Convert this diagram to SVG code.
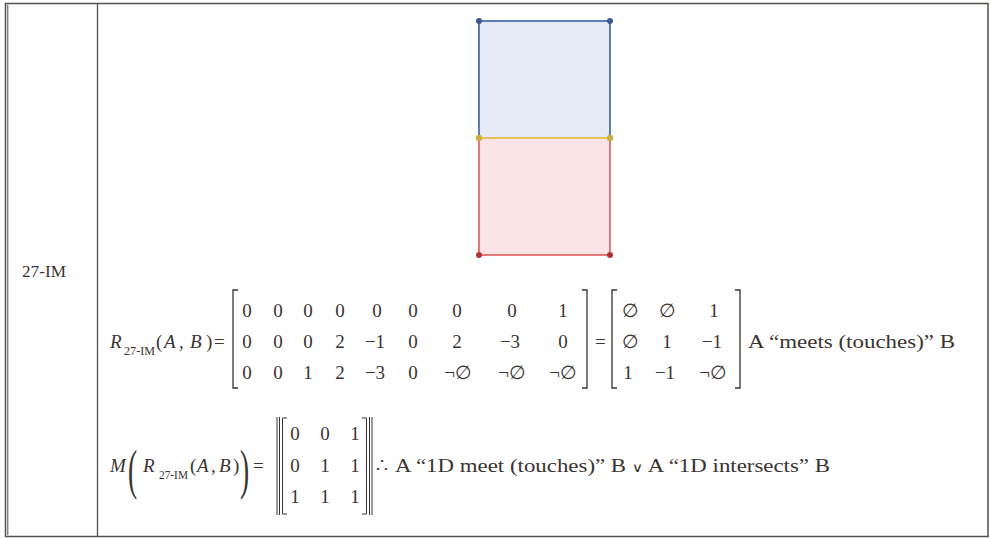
<svg xmlns="http://www.w3.org/2000/svg" width="990" height="538" viewBox="0 0 990 538">
<style>
.t{font-family:"Liberation Serif","Times New Roman",serif;fill:#3b3330;font-size:19px}
.i{font-style:italic}
.s{font-size:12px}
.c{text-anchor:middle}
.ln{stroke:#55504b;fill:none}
.br{stroke:#3b3330;stroke-width:1.3;fill:none}
.bar{stroke:#3b3330;stroke-width:1;fill:none}
.big{font-size:55px}
.lab{font-size:17px}
.or{font-family:"DejaVu Serif",serif;font-size:13px}
</style>
<rect width="990" height="538" fill="#ffffff"/>
<g id="table">
<line class="ln" x1="5" y1="3.5" x2="988.5" y2="3.5" stroke-width="1.5"/>
<line class="ln" x1="5.5" y1="3" x2="5.5" y2="537" stroke-width="1.5"/>
<line class="ln" x1="7.8" y1="5" x2="7.8" y2="535" stroke-width="1" stroke="#8a8580"/>
<line class="ln" x1="97.5" y1="4" x2="97.5" y2="536" stroke-width="1.3"/>
<line class="ln" x1="988" y1="3" x2="988" y2="537" stroke-width="1.5"/>
<line class="ln" x1="5" y1="536.5" x2="988.5" y2="536.5" stroke-width="1.5"/>
</g>
<g id="label">
<text class="t lab" x="22" y="277" textLength="44" lengthAdjust="spacingAndGlyphs">27-IM</text>
</g>
<g id="shapeA">
<rect x="479" y="21" width="131" height="117" fill="#e6eaf7" stroke="#5e7db2" stroke-width="2"/>
</g>
<g id="shapeB">
<rect x="479" y="138" width="131" height="117" fill="#fbe3e6" stroke="#e8777d" stroke-width="2"/>
</g>
<g id="connectors">
<line x1="479" y1="138" x2="610" y2="138" stroke="#e3c25c" stroke-width="2.2"/>
<circle cx="479" cy="21" r="3" fill="#3d5a8e"/>
<circle cx="610" cy="21" r="3" fill="#3d5a8e"/>
<circle cx="479" cy="138" r="3.2" fill="#c9b13e"/>
<circle cx="610" cy="138" r="3.2" fill="#c9b13e"/>
<circle cx="479" cy="255" r="3" fill="#b03434"/>
<circle cx="610" cy="255" r="3" fill="#b03434"/>
</g>
<g id="formula1">
<text class="t i" x="110" y="348">R</text>
<text class="t s" x="124" y="355" textLength="31" lengthAdjust="spacingAndGlyphs">27-IM</text>
<text class="t" x="156" y="348">(</text>
<text class="t i" x="164" y="348">A</text>
<text class="t" x="179" y="348">,</text>
<text class="t i" x="190" y="348">B</text>
<text class="t" x="206" y="348">)</text>
<text class="t" x="214" y="348">=</text>
<path class="br" d="M238,290 H233 V388 H238"/>
<g class="t c">
<text x="247" y="317">0</text><text x="278" y="317">0</text><text x="308" y="317">0</text><text x="340" y="317">0</text><text x="377" y="317">0</text><text x="413" y="317">0</text><text x="457" y="317">0</text><text x="512" y="317">0</text><text x="563" y="317">1</text>
<text x="247" y="348">0</text><text x="278" y="348">0</text><text x="308" y="348">0</text><text x="340" y="348">2</text><text x="375" y="348">−1</text><text x="413" y="348">0</text><text x="457" y="348">2</text><text x="510" y="348">−3</text><text x="563" y="348">0</text>
<text x="247" y="379">0</text><text x="278" y="379">0</text><text x="308" y="379">1</text><text x="340" y="379">2</text><text x="375" y="379">−3</text><text x="413" y="379">0</text><text x="458" y="379">¬∅</text><text x="512" y="379">¬∅</text><text x="563" y="379">¬∅</text>
</g>
<path class="br" d="M582,290 H587 V388 H582"/>
<text class="t" x="595" y="348">=</text>
<path class="br" d="M617,290 H612 V388 H617"/>
<g class="t c">
<text x="630" y="317">∅</text><text x="667" y="317">∅</text><text x="714" y="317">1</text>
<text x="630" y="348">∅</text><text x="667" y="348">1</text><text x="712" y="348">−1</text>
<text x="628" y="379">1</text><text x="665" y="379">−1</text><text x="713" y="379">¬∅</text>
</g>
<path class="br" d="M735,290 H740 V388 H735"/>
<text class="t" x="748" y="348" textLength="207" lengthAdjust="spacingAndGlyphs">A “meets (touches)” B</text>
</g>
<g id="formula2">
<text class="t i" x="110" y="472">M</text>
<text class="t big" x="0" y="0" transform="translate(128,488) scale(0.5,1)">(</text>
<text class="t i" x="143" y="472">R</text>
<text class="t s" x="159" y="479" textLength="29" lengthAdjust="spacingAndGlyphs">27-IM</text>
<text class="t" x="190" y="472">(</text>
<text class="t i" x="197" y="472">A</text>
<text class="t" x="211" y="472">,</text>
<text class="t i" x="219" y="472">B</text>
<text class="t" x="233" y="472">)</text>
<text class="t big" x="0" y="0" transform="translate(240,488) scale(0.5,1)">)</text>
<text class="t" x="253" y="472">=</text>
<line class="bar" x1="277" y1="417" x2="277" y2="515"/>
<line class="bar" x1="279.5" y1="417" x2="279.5" y2="515"/>
<path class="bar" d="M287,418 H282.5 V514 H287"/>
<g class="t c">
<text x="295" y="440">0</text><text x="325" y="440">0</text><text x="355" y="440">1</text>
<text x="295" y="472">0</text><text x="325" y="472">1</text><text x="355" y="472">1</text>
<text x="295" y="503">1</text><text x="325" y="503">1</text><text x="355" y="503">1</text>
</g>
<path class="bar" d="M362,418 H366.5 V514 H362"/>
<line class="bar" x1="369.5" y1="417" x2="369.5" y2="515"/>
<line class="bar" x1="372" y1="417" x2="372" y2="515"/>
<text class="t" x="376" y="472">∴</text>
<text class="t" x="395" y="472" textLength="435" lengthAdjust="spacingAndGlyphs">A “1D meet (touches)” B <tspan class="or">∨</tspan> A “1D intersects” B</text>
</g>
</svg>
